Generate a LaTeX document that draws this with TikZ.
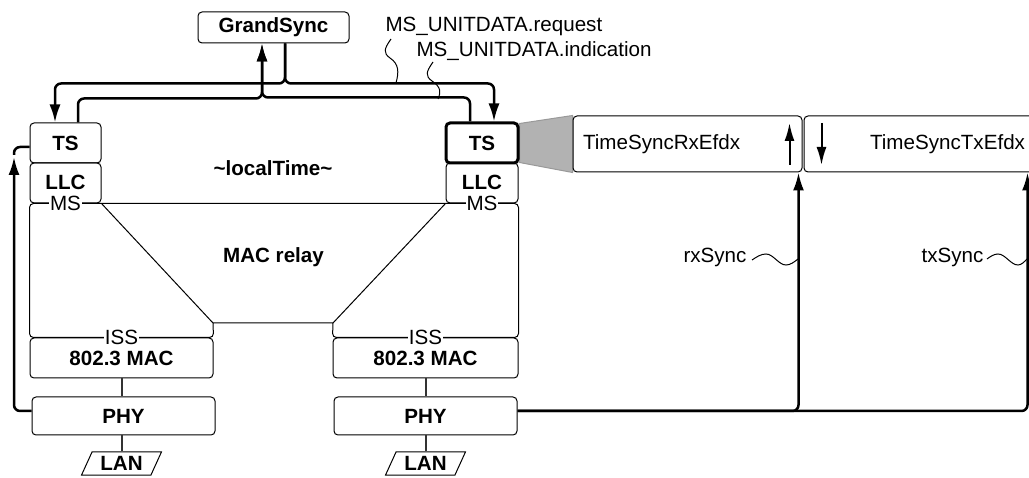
\documentclass[tikz,border=0pt]{standalone}
\usepackage{fontspec}
\setmainfont{Liberation Sans}
\usepackage{tikz}
\usetikzlibrary{positioning,shapes.geometric,arrows.meta,backgrounds}
\newcommand{\figfont}{\fontsize{20.6}{24.7}\selectfont}
\tikzstyle{layer} = [rectangle, rounded corners=4pt, draw=black, line width=1pt, inner sep=0pt, font=\figfont\bfseries]
\tikzstyle{lan} = [trapezium, trapezium left angle=62, trapezium right angle=118, trapezium stretches=true, draw=black, line width=1pt, minimum width=80pt, minimum height=23pt, inner sep=0pt, font=\figfont\bfseries]
\tikzstyle{entity} = [rectangle, rounded corners=4pt, draw=black, line width=1pt, minimum height=56pt, inner xsep=10pt]
\tikzstyle{edgelbl} = [fill=white, inner sep=1pt]
\tikzstyle{line} = [draw, line width=2.5pt, rounded corners=6pt, -{Latex[length=18pt,width=11pt]}]
\tikzstyle{plain} = [draw, line width=2.5pt, rounded corners=6pt]
\tikzstyle{link} = [draw, line width=2pt, black!80]
\tikzstyle{wave} = [draw, line width=1pt]

\begin{document}
\begin{tikzpicture}[x=1pt, y=1pt, font=\figfont]
			\useasboundingbox (0,0) rectangle (1029,477);
			\clip (0,0) rectangle (1029,477);
			% Place nodes
			\node [layer, minimum width=151pt, minimum height=31pt] (grand) at (273.5,449.5) {GrandSync};
			\node [layer, minimum width=71pt, minimum height=40pt] (tsL) at (65.5,334) {TS};
			\node [layer, minimum width=71pt, minimum height=40pt] (llcL) at (65.5,294) {\raisebox{2pt}{LLC}};
			\node [layer, line width=3pt, minimum width=72pt, minimum height=40pt] (tsR) at (482,334) {TS};
			\node [layer, minimum width=72pt, minimum height=40pt] (llcR) at (482,294) {\raisebox{2pt}{LLC}};
			\node [layer, minimum width=183pt, minimum height=40pt] (macL) at (121.5,119) {\raisebox{-3pt}{802.3 MAC}};
			\node [layer, minimum width=185pt, minimum height=40pt] (macR) at (425.5,119) {\raisebox{-3pt}{802.3 MAC}};
			\node [layer, minimum width=183pt, minimum height=38pt] (phyL) at (123.5,61) {PHY};
			\node [layer, minimum width=183pt, minimum height=38pt] (phyR) at (425.5,61) {PHY};
			\node [lan] (lanL) at (121.5,13.5) {LAN};
			\node [lan] (lanR) at (425.5,13.5) {LAN};
			\node [entity, text width=209pt, align=left] (rxE) at (687.5,333) {TimeSyncRxEfdx};
			\node [entity, text width=211pt, align=right] (txE) at (919.5,333) {TimeSyncTxEfdx};
			\node [font=\figfont\bfseries] (loc) at (273,309) {\textasciitilde localTime\textasciitilde};
			\node [font=\figfont\bfseries] (relay) at (273.5,220) {MAC relay};
			\node [anchor=base west] (req) at (382,445) {MS\_UNITDATA.request};
			\node [anchor=base west] (ind) at (413,420) {MS\_UNITDATA.indication};
			\node (rxlbl) at (715,220) {rxSync};
			\node (txlbl) at (952.5,220) {txSync};
			% MAC relay outline
			\coordinate (relayL) at (213,154);
			\coordinate (relayR) at (333,154);
			\draw [line width=1pt, rounded corners=4pt] (llcL.south west) -- (llcR.south east) -- (macR.north east) -- (macR.north west) [sharp corners] -- (relayR) -- (relayL) [rounded corners=4pt] -- (macL.north east) -- (macL.north west) -- cycle;
			\draw [line width=1pt] (llcL.south east) -- (relayL);
			\draw [line width=1pt] (llcR.south west) -- (relayR);
			\node [edgelbl] (msL) at (llcL.south) {MS};
			\node [edgelbl] (msR) at (llcR.south) {MS};
			\node [edgelbl] (issL) at (macL.north) {ISS};
			\node [edgelbl] (issR) at (macR.north) {ISS};
			% zoom onto the right TS
			\begin{scope}[on background layer]
			\filldraw [fill=black!30, draw=black!40, line width=1pt] ([yshift=-2pt]tsR.north east) -- (rxE.north west) -- (rxE.south west) -- ([yshift=2pt]tsR.south east) -- cycle;
			\end{scope}
			% Draw edges
			\path [line] ([xshift=11.5pt]grand.south) -- ++(0,-40) -| ([xshift=-10.5pt]tsL.north);
			\path [line] ([xshift=11.5pt]grand.south) -- ++(0,-40) -| ([xshift=12pt]tsR.north);
			\path [line] ([xshift=12.5pt]tsL.north) -- ++(0,24) -| ([xshift=-11.5pt]grand.south);
			\path [line] ([xshift=-12pt]tsR.north) -- ++(0,24) -| ([xshift=-11.5pt]grand.south);
			\coordinate (tsin) at (14,320);
			\path [line] ([yshift=5pt]phyL.west) -| (tsin);
			\path [plain] ([yshift=-4pt]tsL.west) -| ([yshift=2pt]tsin);
			\path [line] ([yshift=5pt]phyR.east) -| ([xshift=-4pt]rxE.south east);
			\path [line] ([yshift=5pt]phyR.east) -| ([xshift=-8pt]txE.south east);
			\path [link] (macL.south) -- (macL.south |- phyL.north);
			\path [link] (lanL.north) -- (lanL.north |- phyL.south);
			\path [link] (macR.south) -- (macR.south |- phyR.north);
			\path [link] (lanR.north) -- (lanR.north |- phyR.south);
			\draw [line width=2pt, -{Latex[length=18pt,width=10pt]}] ([xshift=-13pt,yshift=-21pt]rxE.east) -- ([xshift=-13pt,yshift=21pt]rxE.east);
			\draw [line width=2pt, -{Latex[length=18pt,width=10pt]}] ([xshift=18pt,yshift=21pt]txE.west) -- ([xshift=18pt,yshift=-21pt]txE.west);
			% label pointers
			\path [wave] ([shift={(9pt,-7pt)}]req.base west) .. controls (384,428) and (383,424) .. (390,419) .. controls (399,413) and (399,405) .. (396,394);
			\path [wave] ([shift={(20pt,-5pt)}]ind.base west) .. controls (426,405) and (425,401) .. (432,396) .. controls (441,390) and (441,385) .. (438,378);
			\path [wave] ([xshift=2pt,yshift=-3pt]rxlbl.east) sin (766,223) cos (776,217.5) sin (786,212) cos (798,218);
			\path [wave] ([yshift=-2pt]txlbl.east) sin (998,223) cos (1008,217.5) sin (1018,212) cos (1027,218);
\end{tikzpicture}
\end{document}
